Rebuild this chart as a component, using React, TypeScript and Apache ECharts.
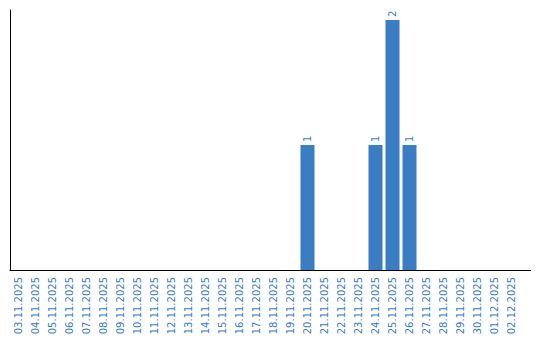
import React, { useEffect, useRef } from "react";
import * as echarts from "echarts";

const categories = [
  "03.11.2025", "04.11.2025", "05.11.2025", "06.11.2025", "07.11.2025",
  "08.11.2025", "09.11.2025", "10.11.2025", "11.11.2025", "12.11.2025",
  "13.11.2025", "14.11.2025", "15.11.2025", "16.11.2025", "17.11.2025",
  "18.11.2025", "19.11.2025", "20.11.2025", "21.11.2025", "22.11.2025",
  "23.11.2025", "24.11.2025", "25.11.2025", "26.11.2025", "27.11.2025",
  "28.11.2025", "29.11.2025", "30.11.2025", "01.12.2025", "02.12.2025",
];

const values: (number | null)[] = [
  null, null, null, null, null,
  null, null, null, null, null,
  null, null, null, null, null,
  null, null, 1, null, null,
  null, 1, 2, 1, null,
  null, null, null, null, null,
];

const BLUE = "#3a7dc3";

export default function App() {
  const ref = useRef<HTMLDivElement>(null);
  useEffect(() => {
    if (!ref.current) return;
    const chart = echarts.init(ref.current, undefined, { renderer: "svg" });
    chart.setOption({
      animation: false,
      grid: { left: 10, top: 10, width: 510, bottom: 70 },
      xAxis: {
        type: "category",
        data: categories,
        axisLine: { lineStyle: { color: "#000", width: 1 } },
        axisTick: { show: false },
        axisLabel: {
          rotate: 90,
          interval: 0,
          color: BLUE,
          fontSize: 10,
          fontFamily: "DejaVu Sans",
          margin: 7,
        },
      },
      yAxis: {
        type: "value",
        min: 0,
        max: 2.08,
        axisLine: { show: true, lineStyle: { color: "#000", width: 1 } },
        axisTick: { show: false },
        axisLabel: { show: false },
        splitLine: { show: false },
      },
      graphic: [
        {
          type: "line",
          shape: { x1: 520, y1: 270.5, x2: 531, y2: 270.5 },
          style: { stroke: "#000", lineWidth: 1 },
        },
      ],
      series: [
        {
          type: "bar",
          data: values,
          barWidth: 14,
          itemStyle: { color: BLUE },
          label: {
            show: true,
            position: "top",
            rotate: 90,
            align: "left",
            verticalAlign: "middle",
            distance: 3,
            color: BLUE,
            fontSize: 10,
            fontFamily: "DejaVu Sans",
          },
        },
      ],
    });
    return () => chart.dispose();
  }, []);
  return <div ref={ref} style={{ width: 540, height: 340, position: "absolute", left: 0, top: 0 }} />;
}
